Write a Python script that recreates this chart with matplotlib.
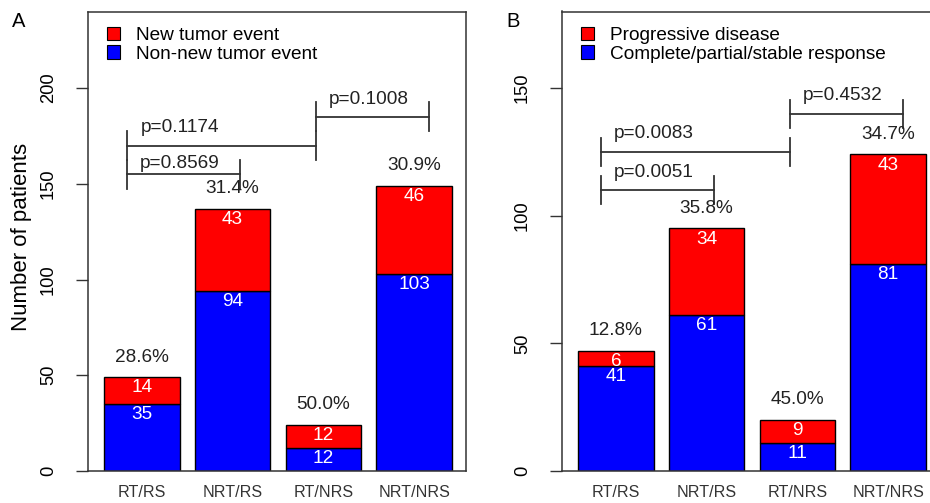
import matplotlib
matplotlib.use("Agg")
import matplotlib.pyplot as plt
from matplotlib.patches import Patch

plt.rcParams['font.family'] = ['Liberation Sans', 'DejaVu Sans']

categories = ["RT/RS", "NRT/RS", "RT/NRS", "NRT/NRS"]

# Panel A
a_event = [14, 43, 12, 46]
a_nonevent = [35, 94, 12, 103]
a_labels = ["New tumor event", "Non-new tumor event"]
a_brackets = [(0.5, 2.0, 155, 1.2, 158.5, "p=0.8569"),
              (0.5, 3.0, 170, 1.2, 177.0, "p=0.1174"),
              (3.0, 4.5, 185, 3.7, 191.5, "p=0.1008")]
a_ylim = 240
a_yticks = [0, 50, 100, 150, 200]
a_tick = 7.5

# Panel B
b_event = [6, 34, 9, 43]
b_nonevent = [41, 61, 11, 81]
b_labels = ["Progressive disease", "Complete/partial/stable response"]
b_brackets = [(0.5, 2.0, 110, 1.2, 115.3, "p=0.0051"),
              (0.5, 3.0, 125, 1.2, 130.3, "p=0.0083"),
              (3.0, 4.5, 140, 3.7, 145.3, "p=0.4532")]
b_ylim = 180
b_yticks = [0, 50, 100, 150]
b_tick = 5.5

RED = "#FF0000"
BLUE = "#0000FF"
DARK = "#333333"
FS = 13.7

fig = plt.figure(figsize=(9.3, 5.03), dpi=100)
W, H = 930.0, 503.0
axA = fig.add_axes([87.7 / W, 32 / H, 378.3 / W, 459.5 / H])
axB = fig.add_axes([561.7 / W, 32 / H, 378.3 / W, 459.5 / H])


def panel(ax, ev, nev, labels, brackets, ylim, yticks, tlen):
    xs = [0.2 + 1.2 * i + 0.5 for i in range(len(categories))]
    ax.bar(xs, nev, width=1.0, color=BLUE, edgecolor="black", linewidth=1.0)
    ax.bar(xs, ev, bottom=nev, width=1.0, color=RED, edgecolor="black", linewidth=1.0)
    ax.set_xlim(-0.016, 4.984)
    ax.set_ylim(0, ylim)
    ax.set_yticks(yticks)
    ax.set_yticklabels([str(t) for t in yticks], rotation=90, va="center", fontsize=13.2)
    ax.tick_params(axis="y", length=8.6, width=1.0, color=DARK, pad=13.5)
    ax.set_xticks(xs)
    ax.set_xticklabels(categories, fontsize=11.6, color=DARK)
    ax.tick_params(axis="x", length=0, pad=10)
    for s in ax.spines.values():
        s.set_color(DARK)
        s.set_linewidth(1.1)
    for x, e, n in zip(xs, ev, nev):
        tot = e + n
        ax.annotate(f"{e / tot * 100:.1f}%", (x, tot), xytext=(0, 11.2), textcoords="offset points",
                    ha="center", va="baseline", fontsize=FS, color="#222222")
        ax.annotate(str(e), (x, tot), xytext=(0, -10.9), textcoords="offset points",
                    ha="center", va="baseline", fontsize=FS, color="white")
        ax.annotate(str(n), (x, n), xytext=(0, -10.9), textcoords="offset points",
                    ha="center", va="baseline", fontsize=FS, color="white")
    for x0, x1, y, tx, ty, lab in brackets:
        ax.plot([x0, x1], [y, y], color=DARK, lw=1.3)
        ax.plot([x0, x0], [y - tlen, y + tlen], color=DARK, lw=1.3)
        ax.plot([x1, x1], [y - tlen, y + tlen], color=DARK, lw=1.3)
        ax.text(tx, ty, lab, ha="center", va="baseline", fontsize=FS, color="#222222")
    handles = [Patch(facecolor=RED, edgecolor="black", linewidth=0.8),
               Patch(facecolor=BLUE, edgecolor="black", linewidth=0.8)]
    ax.legend(handles, labels, loc="upper left", bbox_to_anchor=(0.051, 0.966),
              frameon=False, fontsize=FS, handlelength=0.7, handleheight=0.7,
              handletextpad=0.85, labelspacing=0.05, borderpad=0, borderaxespad=0)


panel(axA, a_event, a_nonevent, a_labels, a_brackets, a_ylim, a_yticks, a_tick)
panel(axB, b_event, b_nonevent, b_labels, b_brackets, b_ylim, b_yticks, b_tick)

fig.text(21.7 / W, 1 - 237 / H, "Number of patients", rotation=90, ha="center", va="center",
         fontsize=16)
fig.text(11.7 / W, 1 - 26.7 / H, "A", ha="left", va="baseline", fontsize=14.5)
fig.text(506.7 / W, 1 - 26.7 / H, "B", ha="left", va="baseline", fontsize=14.5)

fig.savefig("out.png", dpi=100)
